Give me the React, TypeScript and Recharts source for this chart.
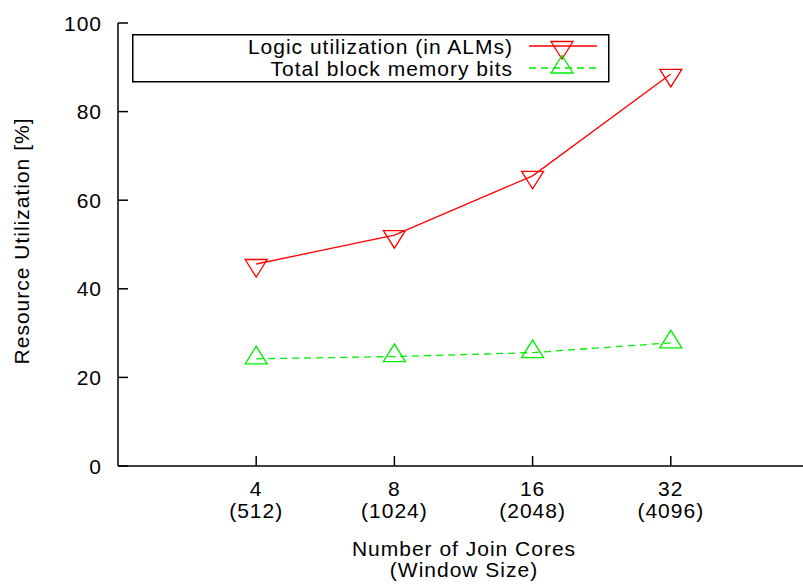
import { LineChart, Line, XAxis, YAxis, Legend } from 'recharts'

const FONT = '"Liberation Sans", Arial, Helvetica, sans-serif'
const FS = 21
const LS = 1

// x positions 1..4 on a 0..5 axis, like the original plot
const positions = [1, 2, 3, 4]
const coreLabels = ['4', '8', '16', '32']
const windowLabels = ['(512)', '(1024)', '(2048)', '(4096)']

const logicUtil = [45.6, 52.1, 65.5, 88.5]
const memoryBits = [24.2, 24.7, 25.6, 27.8]

const yTicks = [0, 20, 40, 60, 80, 100]

const series = [
  { key: 'logic', name: 'Logic utilization (in ALMs)', color: '#ff0000', dash: undefined, down: true },
  { key: 'memory', name: 'Total block memory bits', color: '#00ee00', dash: '7 5', down: false },
]

const chartData = positions.map((pos, i) => ({
  pos,
  logic: logicUtil[i],
  memory: memoryBits[i],
}))

function Tri({ cx, cy, color, down }: { cx: number; cy: number; color: string; down: boolean }) {
  // gnuplot style triangles: apex far from the point, flat side close to it
  const hw = 11
  const pts = down
    ? `${cx - hw},${cy - 4.5} ${cx + hw},${cy - 4.5} ${cx},${cy + 13}`
    : `${cx - hw},${cy + 5} ${cx + hw},${cy + 5} ${cx},${cy - 12.5}`
  return <polygon points={pts} fill="none" stroke={color} strokeWidth={1.3} />
}

function XTick(props: any) {
  const { x, y, payload } = props
  const i = positions.indexOf(payload.value)
  if (i < 0) return null
  return (
    <g fontFamily={FONT} fontSize={FS} fill="#000" letterSpacing={LS}>
      <text x={x} y={y + 30} textAnchor="middle">{coreLabels[i]}</text>
      <text x={x} y={y + 52} textAnchor="middle">{windowLabels[i]}</text>
    </g>
  )
}

function YTick(props: any) {
  const { x, y, payload } = props
  return (
    <text x={x} y={y + 7.5} textAnchor="end" fontFamily={FONT} fontSize={FS} fill="#000" letterSpacing={LS}>
      {payload.value}
    </text>
  )
}

function LegendBox() {
  return (
    <svg width={478} height={49} style={{ display: 'block' }}>
      <rect x={0.75} y={0.75} width={476} height={47} fill="#fff" stroke="#000" strokeWidth={1.5} />
      {series.map((s, i) => {
        const ly = 12 + i * 22
        return (
          <g key={s.key}>
            <text
              x={381}
              y={ly + 7.5}
              textAnchor="end"
              fontFamily={FONT}
              fontSize={FS}
              letterSpacing={LS}
              fill="#000"
            >
              {s.name}
            </text>
            <line x1={397} x2={465} y1={ly} y2={ly} stroke={s.color} strokeWidth={1.3} strokeDasharray={s.dash} />
            <Tri cx={430} cy={ly} color={s.color} down={s.down} />
          </g>
        )
      })}
    </svg>
  )
}

export default function App() {
  return (
    <div style={{ position: 'absolute', left: 0, top: 0, width: 803, height: 584, overflow: 'hidden', background: '#fff' }}>
      {/* right margin is negative so the frame's right edge sits just past the canvas, like the reference */}
      <LineChart width={803} height={584} data={chartData} margin={{ top: 23, right: -17, bottom: 0, left: 0 }}>
        <XAxis
          xAxisId="bottom"
          dataKey="pos"
          type="number"
          domain={[0, 5]}
          ticks={positions}
          orientation="bottom"
          height={118}
          stroke="#000"
          strokeWidth={1.5}
          tickSize={-10}
          tickMargin={10}
          tick={<XTick />}
          label={{
            content: () => (
              <g fontFamily={FONT} fontSize={FS} fill="#000" letterSpacing={LS}>
                <text x={464} y={556} textAnchor="middle">Number of Join Cores</text>
                <text x={464} y={577} textAnchor="middle">(Window Size)</text>
              </g>
            ),
          }}
        />
        <XAxis
          xAxisId="top"
          dataKey="pos"
          type="number"
          domain={[0, 5]}
          ticks={positions}
          orientation="top"
          height={0}
          stroke="#000"
          strokeWidth={1.5}
          tickSize={-10}
          tick={false}
        />
        <YAxis
          yAxisId="left"
          type="number"
          domain={[0, 100]}
          ticks={yTicks}
          width={118}
          stroke="#000"
          strokeWidth={1.5}
          tickSize={-10}
          tickMargin={26}
          tick={<YTick />}
          label={{
            content: () => (
              <text
                x={29}
                y={241}
                transform="rotate(-90 29 241)"
                textAnchor="middle"
                fontFamily={FONT}
                fontSize={FS}
                letterSpacing={LS}
                fill="#000"
              >
                Resource Utilization [%]
              </text>
            ),
          }}
        />
        <YAxis
          yAxisId="right"
          orientation="right"
          type="number"
          domain={[0, 100]}
          ticks={yTicks}
          width={11}
          stroke="#000"
          strokeWidth={1.5}
          tickSize={-10}
          tick={false}
        />
        <Legend
          layout="horizontal"
          verticalAlign="middle"
          align="center"
          wrapperStyle={{ position: 'absolute', left: 132, top: 34, width: 478, height: 49 }}
          content={() => <LegendBox />}
        />
        {series.map(s => (
          <Line
            key={s.key}
            xAxisId="bottom"
            yAxisId="left"
            dataKey={s.key}
            name={s.name}
            stroke={s.color}
            strokeWidth={1.3}
            strokeDasharray={s.dash}
            isAnimationActive={false}
            dot={(p: any) => <Tri key={`${s.key}-${p.index}`} cx={p.cx} cy={p.cy} color={s.color} down={s.down} />}
            activeDot={false}
          />
        ))}
      </LineChart>
    </div>
  )
}
